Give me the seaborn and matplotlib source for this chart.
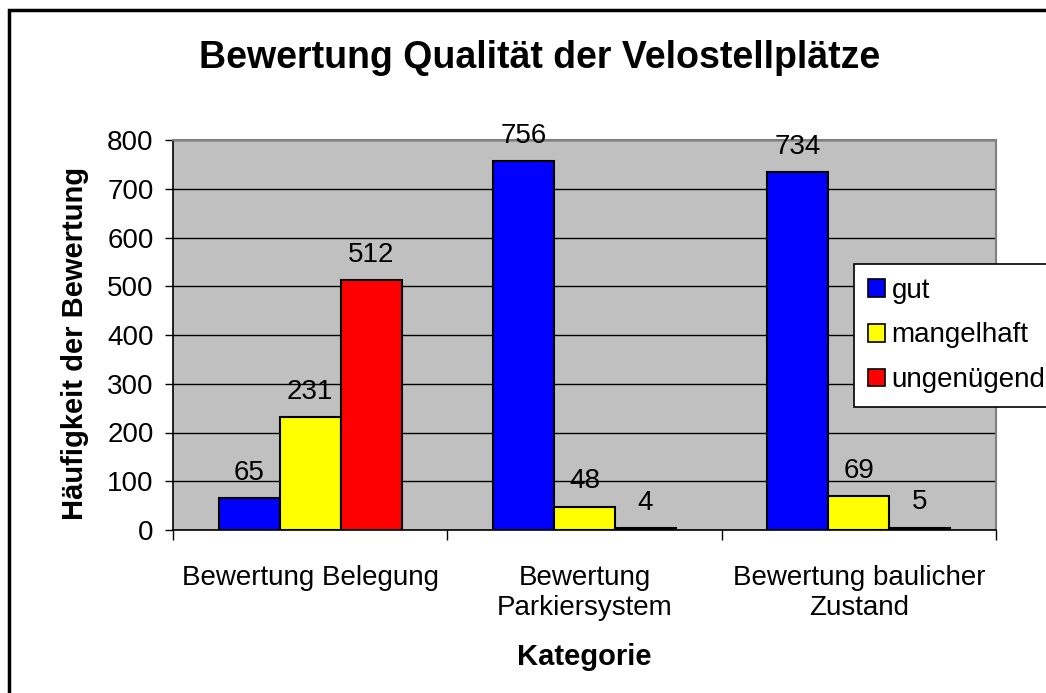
import matplotlib
matplotlib.use("Agg")
import matplotlib.pyplot as plt
import matplotlib.patches as mpatches
import seaborn as sns
import pandas as pd

categories = ["Bewertung Belegung", "Bewertung\nParkiersystem", "Bewertung baulicher\nZustand"]
series_names = ["gut", "mangelhaft", "ungenügend"]
gut = [65, 756, 734]
mangelhaft = [231, 48, 69]
ungenuegend = [512, 4, 5]
colors = ["#0000FF", "#FFFF00", "#FF0000"]

rows = []
for name, vals in zip(series_names, [gut, mangelhaft, ungenuegend]):
    for c, v in zip(categories, vals):
        rows.append({"Kategorie": c, "Serie": name, "Wert": v})
df = pd.DataFrame(rows)

sns.set_style("white")
plt.rcParams["font.family"] = ["Liberation Sans", "DejaVu Sans"]
plt.rcParams["text.color"] = "black"
plt.rcParams["xtick.color"] = "black"
plt.rcParams["ytick.color"] = "black"
plt.rcParams["axes.labelcolor"] = "black"

fig = plt.figure(figsize=(10.46, 6.93), dpi=100)
ax = fig.add_axes([173/1046, 1-530/693, (996-173)/1046, (530-140)/693])
ax.set_facecolor("#C0C0C0")

sns.barplot(data=df, x="Kategorie", y="Wert", hue="Serie", order=categories,
            hue_order=series_names, palette=colors, saturation=1, width=0.667,
            edgecolor="black", linewidth=1.5, ax=ax, legend=True, zorder=3)

ax.set_xlim(-0.5, 2.5)
ax.set_ylim(0, 800)
ax.set_yticks(range(0, 801, 100))
ax.yaxis.grid(True, color="black", linewidth=1.0, zorder=1)
ax.set_axisbelow(True)
ax.tick_params(axis="y", labelsize=20, length=6, width=1, direction="out", left=True, pad=8)
ax.tick_params(axis="x", which="major", labelsize=20, length=0, pad=25)
ax.set_xticks([0.5, 1.5, -0.5, 2.5], minor=True)
ax.tick_params(axis="x", which="minor", length=7, width=1, direction="out", bottom=True)
for lbl in ax.get_xticklabels():
    lbl.set_verticalalignment("top")
    lbl.set_linespacing(1.2)

for s in ["left", "bottom"]:
    ax.spines[s].set_color("black")
    ax.spines[s].set_linewidth(1.2)
for s in ["top", "right"]:
    ax.spines[s].set_color("#808080")
    ax.spines[s].set_linewidth(1.5)

for cont in ax.containers:
    labels = [f"{int(b.get_height())}" for b in cont]
    ax.bar_label(cont, labels=labels, padding=9, fontsize=20, color="black")

ax.set_ylabel("Häufigkeit der Bewertung", fontsize=21, fontweight="bold")
ax.yaxis.set_label_coords((75-173)/823, (530-343)/390)
ax.yaxis.label.set_verticalalignment("center")
ax.set_xlabel("Kategorie", fontsize=21, fontweight="bold")
ax.xaxis.set_label_coords(0.5, (530-657)/390)
ax.xaxis.label.set_verticalalignment("center")
fig.text(540/1046, 1-58/693, "Bewertung Qualität der Velostellplätze", fontsize=27,
         fontweight="bold", ha="center", va="center")

leg = ax.legend(loc="upper left", bbox_to_anchor=(854/1046, 1-264/693),
                bbox_transform=fig.transFigure, fontsize=20, frameon=True,
                fancybox=False, edgecolor="black", framealpha=1, facecolor="white",
                handlelength=0.6, handleheight=0.6, handletextpad=0.25,
                labelspacing=0.67, borderpad=0.5, borderaxespad=0)
leg.get_frame().set_linewidth(1.2)
leg.set_title(None)
for h in leg.legend_handles:
    h.set_edgecolor("black")
    h.set_linewidth(1.2)

fig.patches.append(mpatches.Rectangle((9/1046, -0.05), 1.2, 1-10/693+0.05,
                                      transform=fig.transFigure, fill=False,
                                      edgecolor="black", linewidth=2.5))

fig.savefig("out.png", dpi=100)
